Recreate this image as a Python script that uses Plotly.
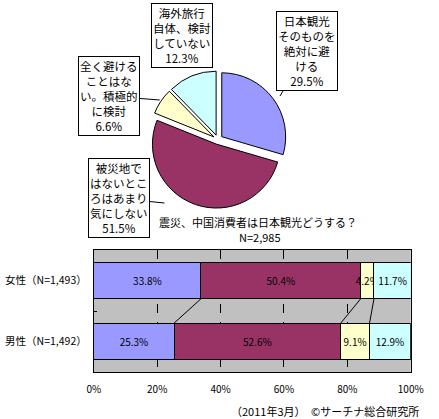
import plotly.graph_objects as go

# 震災、中国消費者は日本観光どうする？ (pie, all respondents)
answers = ['日本観光そのものを絶対に避ける', '被災地ではないところはあまり気にしない',
           '全く避けることはない。積極的に検討', '海外旅行自体、検討していない']
box_texts = ['日本観光<br>そのものを<br>絶対に避<br>ける',
             '被災地で<br>はないとこ<br>ろはあまり<br>気にしない',
             '全く避ける<br>ことはな<br>い。積極的<br>に検討',
             '海外旅行<br>自体、検討<br>していない']
total_pct = [29.5, 51.5, 6.6, 12.3]
total_n = 'N=2,985'

# by gender (stacked bars)
groups = ['男性（N=1,492）', '女性（N=1,493）']
male_pct = [25.3, 52.6, 9.1, 12.9]
female_pct = [33.8, 50.4, 4.2, 11.7]
x_ticks = [0, 20, 40, 60, 80, 100]

colors = ['#9999FF', '#993366', '#FFFFCC', '#CCFFFF']
W, H = 439, 419
FONT = 'Noto Sans CJK JP'


def px(x, y):
    # pixel position -> paper coords
    return x / W, 1 - y / H


fig = go.Figure()

# every slice exploded a little, like the excel original
fig.add_trace(go.Pie(
    labels=answers, values=total_pct, sort=False, direction='clockwise', rotation=0,
    marker=dict(colors=colors, line=dict(color='black', width=1)),
    pull=0.075, textinfo='none', showlegend=False, hoverinfo='skip',
    domain=dict(x=[0.3394, 0.6674], y=[0.4950, 0.8387]),
))

# stacked bars, one trace per answer
for i, name in enumerate(answers):
    vals = [male_pct[i], female_pct[i]]
    fig.add_trace(go.Bar(
        y=[0, 1], x=vals, orientation='h', name=name, width=0.6,
        marker=dict(color=colors[i], line=dict(color='black', width=1)),
        text=[f'{v}%' for v in vals], textposition='inside', insidetextanchor='middle',
        textangle=0, textfont=dict(size=10, color='black', family=FONT),
        showlegend=False, hoverinfo='skip',
    ))

# series lines between the two bars
sx, sy = [], []
cf, cm = 0, 0
for i in range(len(answers) - 1):
    cf += female_pct[i]
    cm += male_pct[i]
    sx += [cf, cm, None]
    sy += [0.7, 0.3, None]
fig.add_trace(go.Scatter(x=sx, y=sy, mode='lines', line=dict(color='black', width=1),
                         showlegend=False, hoverinfo='skip'))

# boxed pie labels: (box centre, leader point or None)
box_pos = [((313.5, 51), (286, 96)),
           ((120, 198.5), (165, 203)),
           ((109, 96), (160, 100)),
           ((183, 35.5), None)]
for txt, v, (c, p) in zip(box_texts, total_pct, box_pos):
    label = f'{txt}<br>{v}%'
    common = dict(text=label, xref='paper', yref='paper', align='center',
                  font=dict(size=11.5, color='black', family=FONT),
                  bgcolor='white', bordercolor='black', borderwidth=1, borderpad=1)
    if p is None:
        x, y = px(*c)
        fig.add_annotation(x=x, y=y, showarrow=False, xanchor='center', yanchor='middle', **common)
    else:
        x, y = px(*p)
        fig.add_annotation(x=x, y=y, showarrow=True, arrowhead=0, arrowwidth=1, arrowcolor='black',
                           ax=c[0] - p[0], ay=c[1] - p[1], **common)

for txt, (x, y) in [('震災、中国消費者は日本観光どうする？', (263, 222)), (total_n, (265, 237)),
                    ('（2011年3月）　©サーチナ総合研究所', (333, 411))]:
    xx, yy = px(x, y)
    fig.add_annotation(x=xx, y=yy, xref='paper', yref='paper', text=txt, showarrow=False,
                       xanchor='center', yanchor='middle', font=dict(size=11, color='black', family=FONT))

fig.update_layout(
    width=W, height=H, margin=dict(l=0, r=0, t=0, b=0),
    paper_bgcolor='white', plot_bgcolor='#C0C0C0',
    barmode='stack', font=dict(family=FONT, size=10, color='black'),
    uniformtext=dict(minsize=10, mode='show'),
    xaxis=dict(domain=[91 / W, 423 / W], range=[0, 100], tickvals=x_ticks,
               ticktext=[f'{t}%' for t in x_ticks],
               showgrid=True, gridcolor='black', griddash='dash', gridwidth=1,
               showline=True, linecolor='black', mirror=True, zeroline=False, ticks='',
               ticklabelstandoff=8, tickfont=dict(size=10)),
    yaxis=dict(domain=[47 / H, 169 / H], range=[-0.5, 1.5], tickvals=[0, 1], ticktext=groups,
               showgrid=False, showline=True, linecolor='black', mirror=True, zeroline=False,
               ticks='', ticklabelstandoff=4, tickfont=dict(size=10.5),
               minor=dict(tickvals=[0.5], ticks='inside', ticklen=3, tickcolor='black')),
)

fig.write_html('out.html', config={'displayModeBar': False},
               post_script="document.body.style.margin='0';")
